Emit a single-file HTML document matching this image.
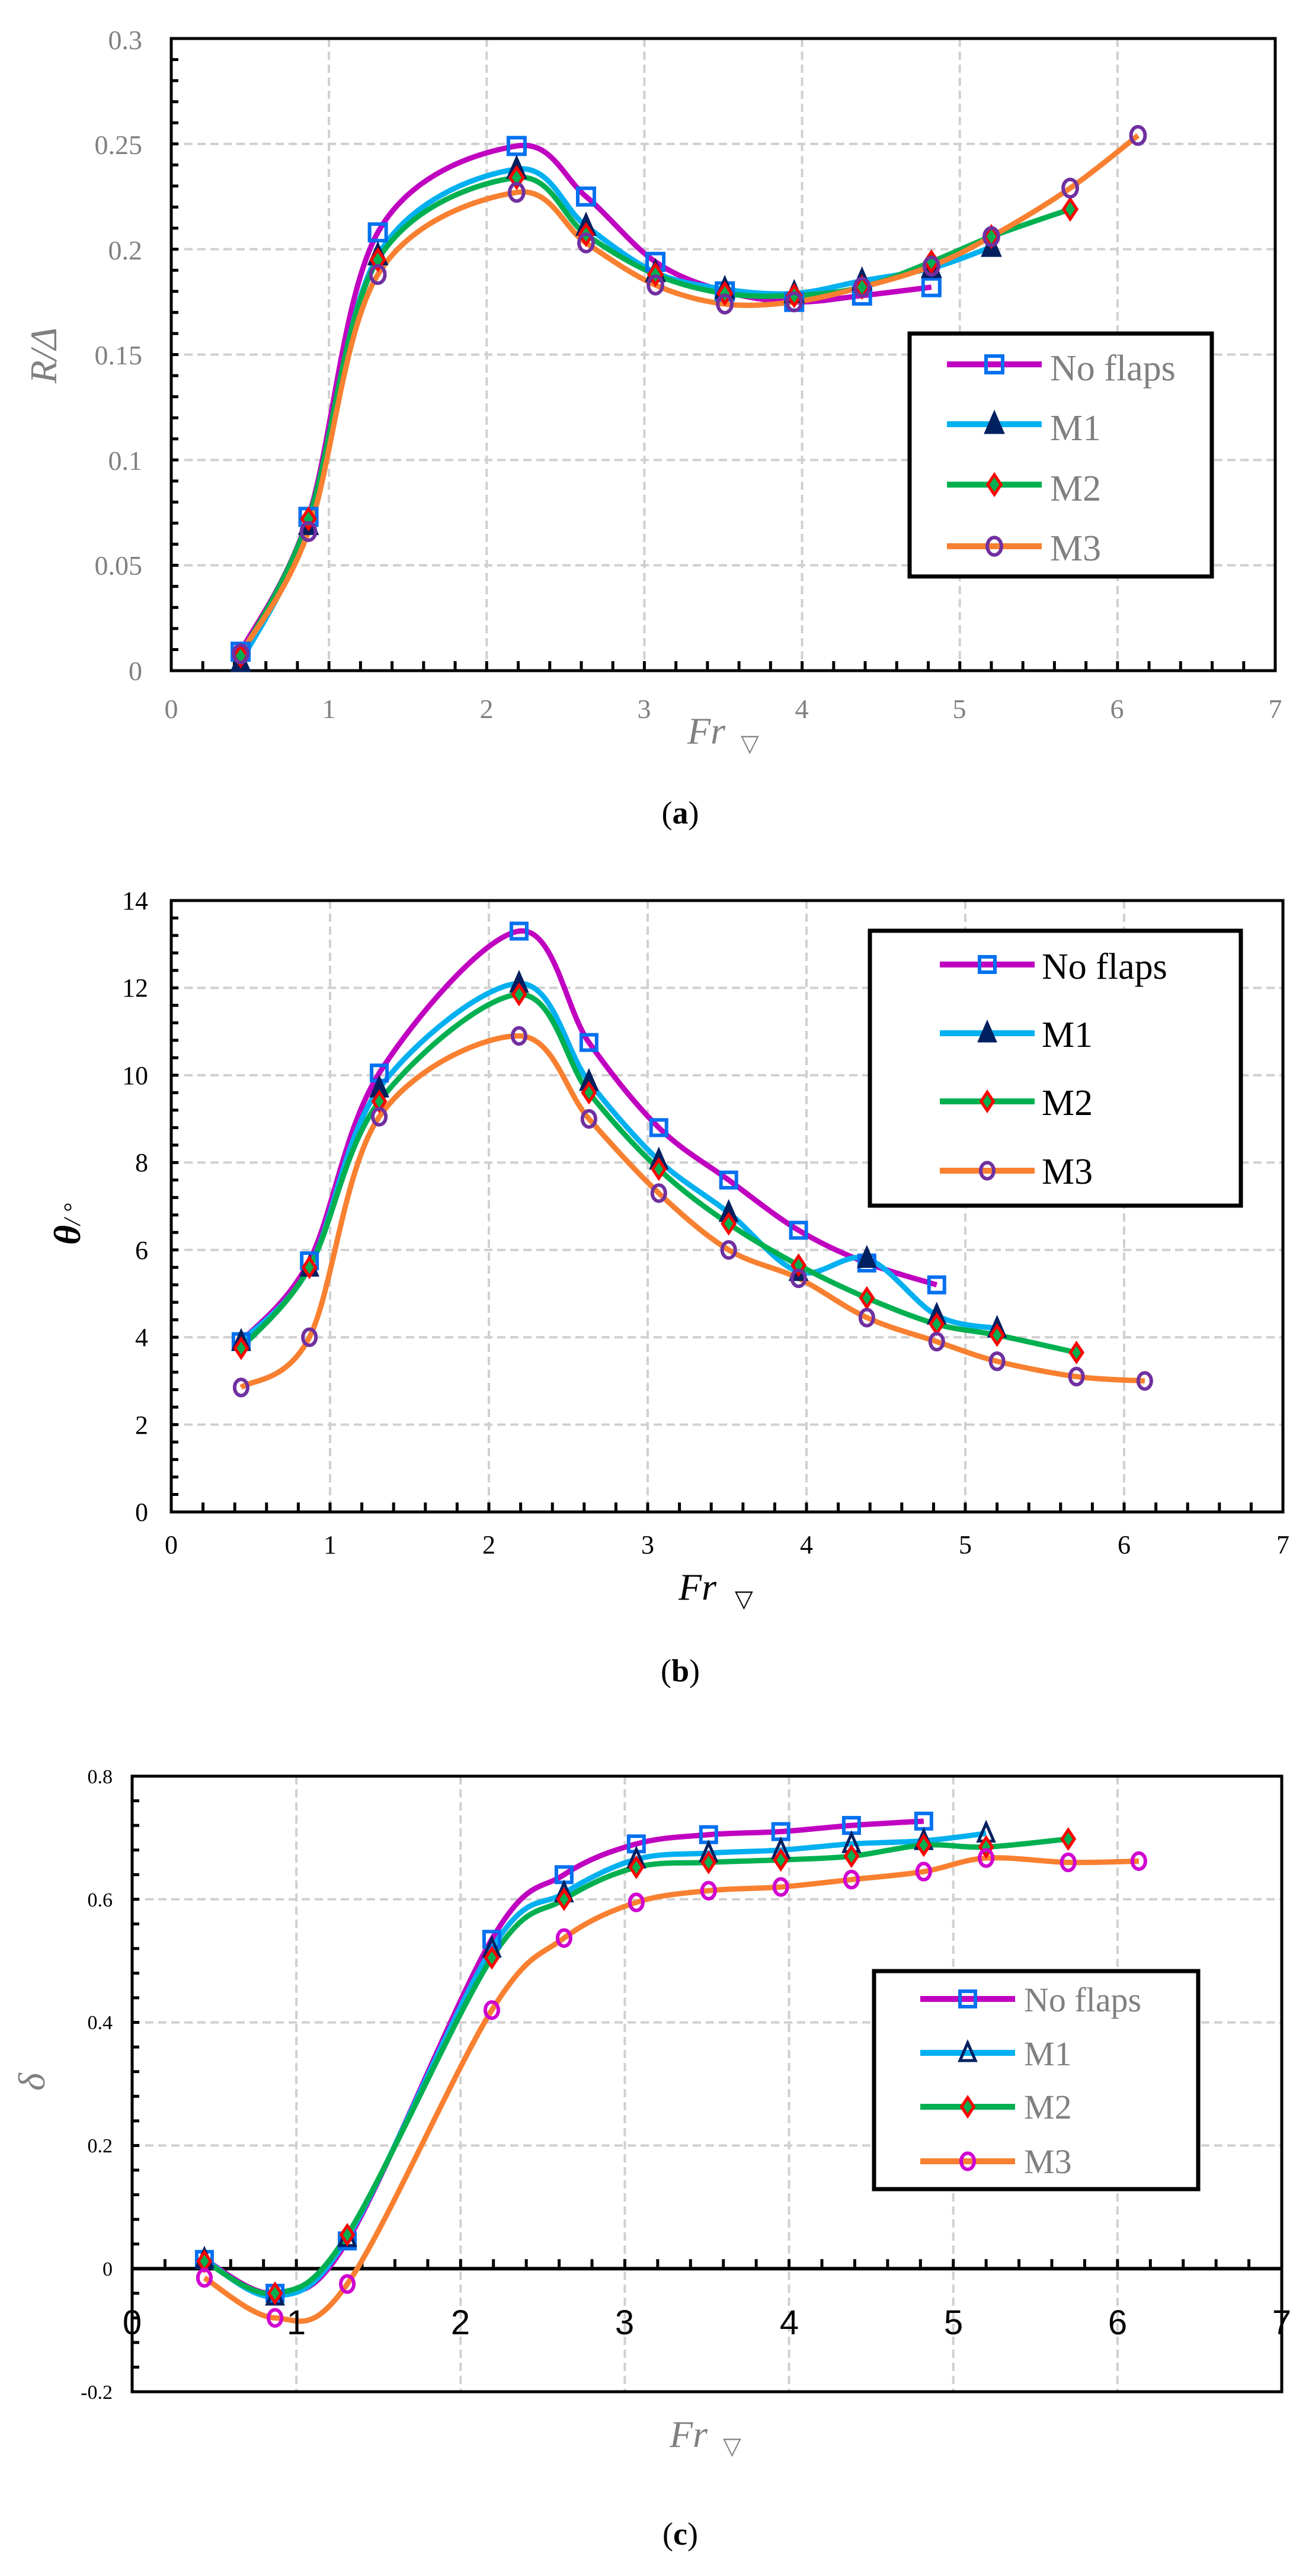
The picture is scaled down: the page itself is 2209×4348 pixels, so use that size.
<!DOCTYPE html>
<html><head><meta charset="utf-8">
<style>
html,body{margin:0;padding:0;background:#fff;}
svg{display:block;}
text{font-family:"Liberation Serif",serif;}
</style></head>
<body>
<svg id="s" width="2209" height="4348" viewBox="0 0 2209 4348" xmlns="http://www.w3.org/2000/svg">
<rect width="2209" height="4348" fill="#fff"/>
<g id="grid"></g>
<g id="series"></g>
<!-- Chart a labels -->
<g fill="#808080" font-size="46" text-anchor="end">
<text x="240" y="1148">0</text><text x="240" y="970">0.05</text><text x="240" y="793">0.1</text>
<text x="240" y="615">0.15</text><text x="240" y="438">0.2</text><text x="240" y="260">0.25</text><text x="240" y="83">0.3</text>
</g>
<g fill="#808080" font-size="46" text-anchor="middle">
<text x="289" y="1212">0</text><text x="555" y="1212">1</text><text x="821" y="1212">2</text><text x="1087" y="1212">3</text>
<text x="1353" y="1212">4</text><text x="1619" y="1212">5</text><text x="1885" y="1212">6</text><text x="2152" y="1212">7</text>
</g>
<text x="1160" y="1255" font-size="64" font-style="italic" fill="#808080">Fr</text><text x="1250" y="1268" font-size="40" fill="#808080">▽</text>
<text x="95" y="600" font-size="64" font-style="italic" fill="#808080" text-anchor="middle" transform="rotate(-90 95 600)">R/Δ</text>
<text x="1148" y="1390" font-size="54" text-anchor="middle" fill="#000">(<tspan font-weight="bold">a</tspan>)</text>
<!-- Chart b labels -->
<g fill="#000" font-size="44" text-anchor="end">
<text x="250" y="2567">0</text><text x="250" y="2420">2</text><text x="250" y="2272">4</text><text x="250" y="2125">6</text>
<text x="250" y="1977">8</text><text x="250" y="1830">10</text><text x="250" y="1682">12</text><text x="250" y="1535">14</text>
</g>
<g fill="#000" font-size="44" text-anchor="middle">
<text x="289" y="2622">0</text><text x="557" y="2622">1</text><text x="825" y="2622">2</text><text x="1093" y="2622">3</text>
<text x="1361" y="2622">4</text><text x="1629" y="2622">5</text><text x="1897" y="2622">6</text><text x="2165" y="2622">7</text>
</g>
<text x="1145" y="2700" font-size="64" font-style="italic" fill="#000">Fr</text><text x="1240" y="2712" font-size="40" fill="#000">▽</text>
<text x="135" y="2066" font-size="64" font-style="italic" font-weight="bold" fill="#000" text-anchor="middle" transform="rotate(-90 135 2066)">θ<tspan font-size="40" font-weight="normal">/ °</tspan></text>
<text x="1148" y="2838" font-size="54" text-anchor="middle" fill="#000">(<tspan font-weight="bold">b</tspan>)</text>
<!-- Chart c labels -->
<g fill="#000" font-size="34" text-anchor="end">
<text x="190" y="4049">-0.2</text><text x="190" y="3841">0</text><text x="190" y="3633">0.2</text><text x="190" y="3425">0.4</text>
<text x="190" y="3218">0.6</text><text x="190" y="3010">0.8</text>
</g>
<g fill="#000" font-size="58" text-anchor="middle" font-family="Liberation Sans,sans-serif">
<text x="223" y="3940" style="font-family:'Liberation Sans',sans-serif">0</text><text x="500" y="3940" style="font-family:'Liberation Sans',sans-serif">1</text><text x="777" y="3940" style="font-family:'Liberation Sans',sans-serif">2</text><text x="1054" y="3940" style="font-family:'Liberation Sans',sans-serif">3</text>
<text x="1332" y="3940" style="font-family:'Liberation Sans',sans-serif">4</text><text x="1609" y="3940" style="font-family:'Liberation Sans',sans-serif">5</text><text x="1886" y="3940" style="font-family:'Liberation Sans',sans-serif">6</text><text x="2163" y="3940" style="font-family:'Liberation Sans',sans-serif">7</text>
</g>
<text x="1130" y="4130" font-size="64" font-style="italic" fill="#808080">Fr</text><text x="1220" y="4142" font-size="40" fill="#808080">▽</text>
<text x="75" y="3514" font-size="64" font-style="italic" fill="#808080" text-anchor="middle" transform="rotate(-90 75 3514)">δ</text>
<text x="1148" y="4295" font-size="54" text-anchor="middle" fill="#000">(<tspan font-weight="bold">c</tspan>)</text>
<!-- Legends -->
<g id="legends"></g>
<g font-size="62" fill="#808080">
<text x="1772" y="642">No flaps</text><text x="1772" y="743">M1</text><text x="1772" y="845">M2</text><text x="1772" y="946">M3</text>
</g>
<g font-size="62" fill="#000">
<text x="1758" y="1652">No flaps</text><text x="1758" y="1767">M1</text><text x="1758" y="1882">M2</text><text x="1758" y="1998">M3</text>
</g>
<g font-size="58" fill="#808080">
<text x="1728" y="3395">No flaps</text><text x="1728" y="3486">M1</text><text x="1728" y="3576">M2</text><text x="1728" y="3668">M3</text>
</g>
</svg>
<script>
var NS="http://www.w3.org/2000/svg";
function el(p,t,a){var e=document.createElementNS(NS,t);for(var k in a)e.setAttribute(k,a[k]);p.appendChild(e);return e;}
var G=document.getElementById('grid'),S=document.getElementById('series'),L=document.getElementById('legends');
var X=[0.44,0.87,1.31,2.19,2.63,3.07,3.51,3.95,4.38,4.82,5.2,5.7,6.13];
var LC=['#c000c0','#00b0f0','#00b050','#f88030'];
function path(pts){var d='M'+pts[0][0]+','+pts[0][1];for(var i=0;i<pts.length-1;i++){var p0=pts[i>0?i-1:i],p1=pts[i],p2=pts[i+1],p3=pts[i+2<pts.length?i+2:i+1];var t=6;d+=' C'+(p1[0]+(p2[0]-p0[0])/t)+','+(p1[1]+(p2[1]-p0[1])/t)+' '+(p2[0]-(p3[0]-p1[0])/t)+','+(p2[1]-(p3[1]-p1[1])/t)+' '+p2[0]+','+p2[1];}return d;}
function marker(p,k,x,y,c,s){
 if(k==0)el(p,'rect',{x:x-s,y:y-s,width:2*s,height:2*s,fill:'none',stroke:'#0070f0','stroke-width':6});
 else if(k==1)el(p,'polygon',{points:(x)+','+(y-s*1.3)+' '+(x+s)+','+(y+s)+' '+(x-s)+','+(y+s),fill:c.tf,stroke:'#002060','stroke-width':5});
 else if(k==2)el(p,'polygon',{points:x+','+(y-s*1.2)+' '+(x+s*0.8)+','+y+' '+x+','+(y+s*1.2)+' '+(x-s*0.8)+','+y,fill:'#00b050',stroke:'#ff0000','stroke-width':5});
 else el(p,'ellipse',{cx:x,cy:y,rx:s*0.85,ry:s*1.05,fill:'none',stroke:c.cc,'stroke-width':6});
}
function chart(c){
 var sx=function(v){return c.l+(c.r-c.l)*v/7},sy=function(v){return c.b-(c.b-c.t)*(v-c.y0)/(c.y1-c.y0)};
 for(var i=1;i<7;i++)el(G,'line',{x1:sx(i),x2:sx(i),y1:c.t,y2:c.b,stroke:'#d0d0d0','stroke-width':4,'stroke-dasharray':'14,8'});
 c.hg.forEach(function(v){el(G,'line',{x1:c.l,x2:c.r,y1:sy(v),y2:sy(v),stroke:'#d0d0d0','stroke-width':4,'stroke-dasharray':'14,8'});});
 el(G,'rect',{x:c.l,y:c.t,width:c.r-c.l,height:c.b-c.t,fill:'none',stroke:'#000','stroke-width':5});
 for(var v=c.y0;v<=c.y1+1e-9;v+=c.ym)el(G,'line',{x1:c.l,x2:c.l+12,y1:sy(v),y2:sy(v),stroke:'#000','stroke-width':5});
 var ay=sy(c.ax);
 if(c.ax!=c.y0)el(G,'line',{x1:c.l,x2:c.r,y1:ay,y2:ay,stroke:'#000','stroke-width':6});
 for(var v=0;v<=7;v+=0.2)el(G,'line',{x1:sx(v),x2:sx(v),y1:ay,y2:ay-16,stroke:'#000','stroke-width':5});
 c.d.forEach(function(ys,k){var pts=ys.map(function(y,i){return[sx(X[i]),sy(y)]});el(S,'path',{d:path(pts),fill:'none',stroke:LC[k],'stroke-width':9});});
 c.d.forEach(function(ys,k){ys.forEach(function(y,i){marker(S,k,sx(X[i]),sy(y),c,c.ms);});});
 var lg=c.lg;el(L,'rect',{x:lg[0],y:lg[1],width:lg[2]-lg[0],height:lg[3]-lg[1],fill:'#fff',stroke:'#000','stroke-width':7});
 lg[5].forEach(function(yy,k){el(L,'line',{x1:lg[4]-80,x2:lg[4]+80,y1:yy,y2:yy,stroke:LC[k],'stroke-width':10});marker(L,k,lg[4],yy,c,c.ms);});
}
chart({l:289,r:2152,t:65,b:1132,y0:0,y1:0.3,ym:0.01,ax:0,hg:[0.05,0.1,0.15,0.2,0.25],ms:14,tf:'#002060',cc:'#7030a0',
 lg:[1535,563,2045,973,1678,[615,716,818,922]],
 d:[[0.009,0.073,0.208,0.249,0.225,0.194,0.180,0.175,0.178,0.182],
    [0.004,0.069,0.197,0.238,0.211,0.189,0.181,0.179,0.185,0.191,0.201],
    [0.007,0.072,0.195,0.234,0.207,0.188,0.179,0.178,0.182,0.194,0.206,0.219],
    [0.008,0.066,0.188,0.227,0.203,0.183,0.174,0.175,0.182,0.192,0.206,0.229,0.254]]});
chart({l:289,r:2165,t:1520,b:2552,y0:0,y1:14,ym:0.4,ax:0,hg:[2,4,6,8,10,12],ms:13,tf:'#002060',cc:'#7030a0',
 lg:[1468,1571,2094,2035,1666,[1628,1744,1859,1976]],
 d:[[3.9,5.75,10.05,13.3,10.75,8.8,7.6,6.45,5.7,5.2],
    [3.9,5.6,9.7,12.1,9.85,8.05,6.85,5.5,5.8,4.5,4.2],
    [3.75,5.6,9.4,11.85,9.6,7.85,6.6,5.65,4.9,4.3,4.05,3.65],
    [2.85,4.0,9.05,10.9,9.0,7.3,6.0,5.35,4.45,3.9,3.45,3.1,3.0]]});
chart({l:223,r:2163,t:2998,b:4037,y0:-0.2,y1:0.8,ym:0.04,ax:0,hg:[0.2,0.4,0.6],ms:13,tf:'none',cc:'#d000d0',
 lg:[1475,3327,2022,3695,1633,[3374,3465,3556,3648]],
 d:[[0.015,-0.04,0.045,0.535,0.64,0.69,0.705,0.71,0.72,0.727],
    [0.015,-0.045,0.05,0.52,0.61,0.665,0.675,0.68,0.69,0.695,0.707],
    [0.012,-0.04,0.055,0.505,0.60,0.652,0.66,0.664,0.67,0.688,0.685,0.698],
    [-0.015,-0.08,-0.025,0.42,0.537,0.595,0.614,0.62,0.632,0.645,0.667,0.66,0.662]]});
</script>
</body></html>
